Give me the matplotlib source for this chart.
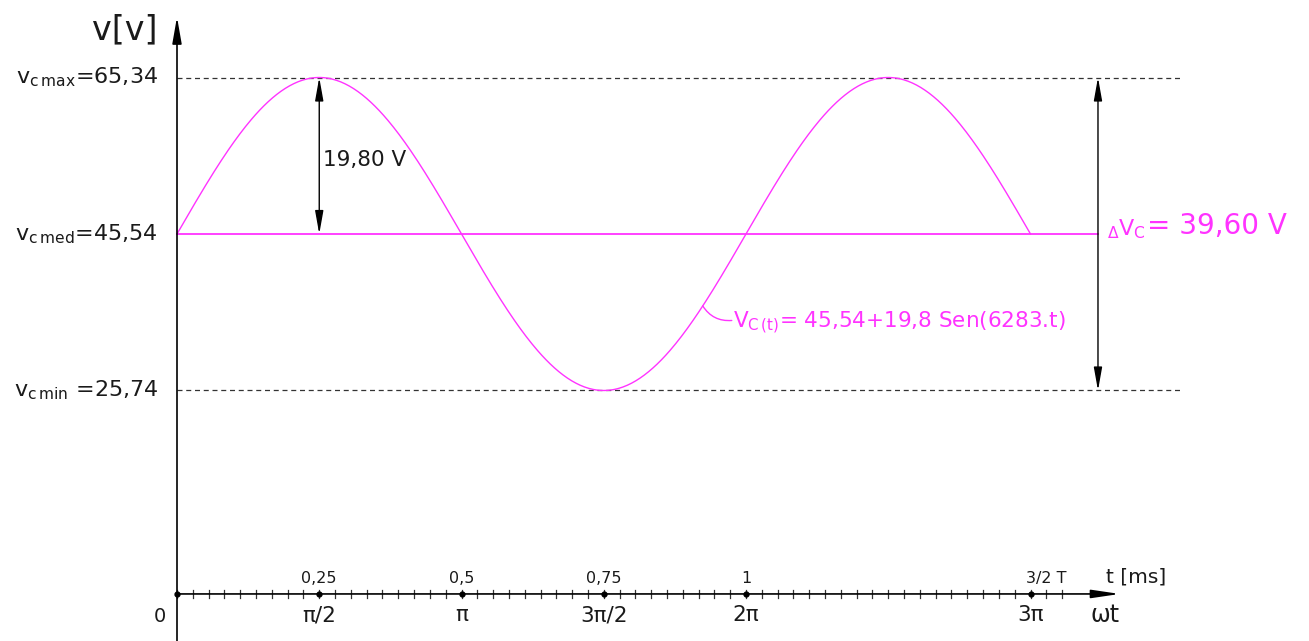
import numpy as np
import matplotlib
matplotlib.use("Agg")
import matplotlib.pyplot as plt

plt.rcParams['font.family'] = ['DejaVu Sans']
plt.rcParams['mathtext.fontset'] = 'dejavusans'

# ---- data ----
vc_max = 65.34
vc_med = 45.54
vc_min = 25.74
amplitude = 19.80
delta_v = 39.60
period_ms = 1.0
t_end_ms = 1.5
tick_ms = [0.0, 0.25, 0.5, 0.75, 1.0, 1.5]
tick_top_labels = ["0,25", "0,5", "0,75", "1", "3/2 T"]
tick_bottom_labels = ["π/2", "π", "3π/2", "2π", "3π"]
y_labels = [r"v$\mathregular{_{c\,max}}$=65,34",
            r"v$\mathregular{_{c\,med}}$=45,54",
            r"v$\mathregular{_{c\,min}}$ =25,74"]
y_values = [vc_max, vc_med, vc_min]

MAG = '#ff33ff'
AX = '#333333'
TXT = '#1a1a1a'

fig = plt.figure(figsize=(13.09, 6.41), dpi=100)
ax = fig.add_axes([0, 0, 1, 1])
ax.set_xlim(-177 / 569, (1309 - 177) / 569)
ax.set_ylim(vc_med - 407 / 7.904, vc_med + 234 / 7.904)
ax.axis('off')

# sine curve
t = np.linspace(0, t_end_ms, 600)
v = vc_med + amplitude * np.sin(2 * np.pi * t / period_ms)
ax.plot(t, v, color=MAG, lw=1.0, zorder=3)
# mean line
ax.plot([0, 1.6186], [vc_med, vc_med], color=MAG, lw=1.3, zorder=3)

# dashed max/min lines
for yv in (vc_max, vc_min):
    ax.plot([0, 1.7627], [yv, yv], color=AX, lw=0.9, ls=(0, (4, 3)), zorder=2)

# y axis
ax.annotate('', xy=(0, 73.0), xytext=(0, -6.5),
            arrowprops=dict(arrowstyle='-|>,head_length=1.6,head_width=0.28',
                            color='black', lw=1.2, shrinkA=0, shrinkB=0))
# x axis
ax.annotate('', xy=(1.657, 0), xytext=(0, 0),
            arrowprops=dict(arrowstyle='-|>,head_length=1.7,head_width=0.25',
                            color='black', lw=1.2, shrinkA=0, shrinkB=0))
# minor ticks
minor = np.arange(0, 57) / 36.0
for m in minor:
    ax.plot([m, m], [-0.55, 0.55], color=AX, lw=0.9, zorder=2)
ax.plot(tick_ms, [0] * len(tick_ms), 'o', color='black', ms=3.5, zorder=4)

for tm, lab in zip(tick_ms[1:], tick_top_labels):
    if lab == "3/2 T":
        ax.text(tm - 0.008, 1.9, lab, fontsize=11.5, ha='left', va='center', color=TXT)
    else:
        ax.text(tm, 1.9, lab, fontsize=11.5, ha='center', va='center', color=TXT)
for tm, lab in zip(tick_ms[1:], tick_bottom_labels):
    ax.text(tm, -2.7, lab, fontsize=15.5, ha='center', va='center', color=TXT)

ax.text(1.631, -2.7, "ωt", fontsize=17, ha='center', va='center', color=TXT)
ax.text(1.685, 2.1, "t [ms]", fontsize=14.5, ha='center', va='center', color=TXT)
ax.text(-0.030, -2.9, "0", fontsize=14, ha='center', va='center', color=TXT)

# y labels
ax.text(-0.0914, 71.4, "v[v]", fontsize=24, ha='center', va='center', color=TXT)
for lab, yv in zip(y_labels, y_values):
    ax.text(-0.033, yv, lab, fontsize=16, ha='right', va='center', color=TXT)

# amplitude arrow
ax.annotate('', xy=(0.25, vc_max), xytext=(0.25, vc_med),
            arrowprops=dict(arrowstyle='<|-|>,head_length=1.4,head_width=0.25',
                            color='black', lw=1.0, shrinkA=0, shrinkB=0))
ax.text(0.2566, 54.9, "19,80 V", fontsize=15.5, ha='left', va='center', color=TXT)

# delta arrow
ax.annotate('', xy=(1.6186, vc_max), xytext=(1.6186, vc_min),
            arrowprops=dict(arrowstyle='<|-|>,head_length=1.4,head_width=0.25',
                            color='black', lw=1.0, shrinkA=0, shrinkB=0))
ax.text(1.634, 46.2, r"$\mathregular{_\Delta V_C}$", fontsize=16, ha='left', va='center', color=MAG)
ax.text(1.7055, 46.6, "= 39,60 V", fontsize=20, ha='left', va='center', color=MAG)

# formula annotation
t_leader = 0.924
v_leader = vc_med + amplitude * np.sin(2 * np.pi * t_leader / period_ms)
ax.annotate('', xy=(t_leader, v_leader), xytext=(0.975, 34.6),
            arrowprops=dict(arrowstyle='-', color=MAG, lw=1.0,
                            connectionstyle='arc3,rad=-0.3', shrinkA=0, shrinkB=0))
ax.text(0.977, 34.3, r"V$\mathregular{_{C\,(t)}}$= 45,54+19,8 Sen(6283.t)",
        fontsize=15.5, ha='left', va='center', color=MAG)

fig.savefig('out.png', dpi=100, facecolor='white')
